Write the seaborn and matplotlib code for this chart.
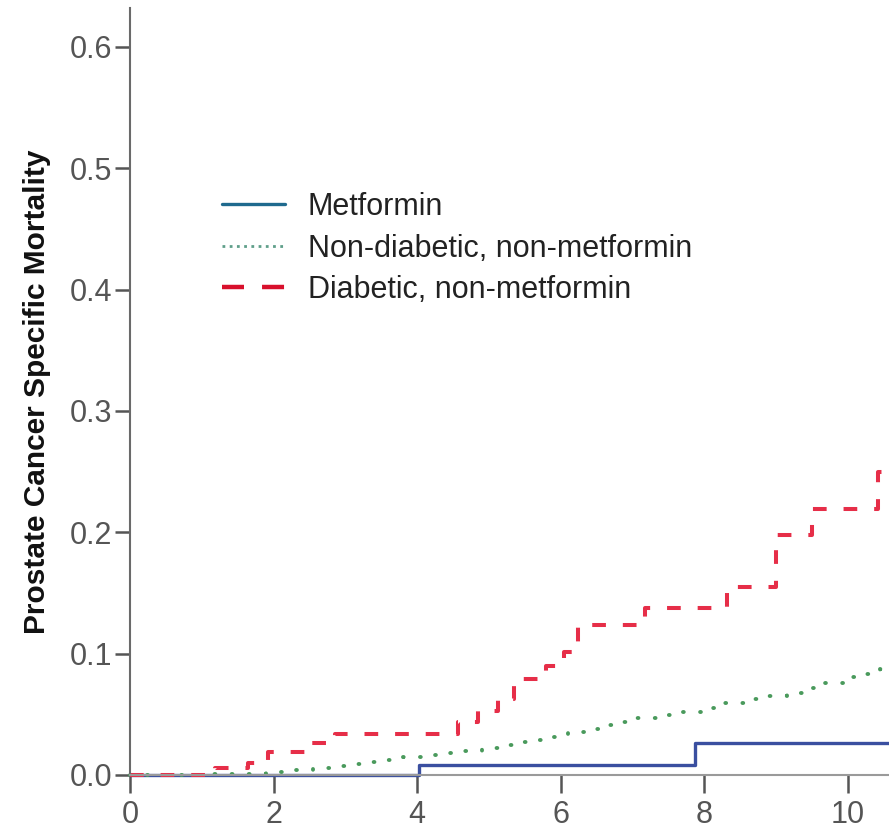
import matplotlib
matplotlib.use("Agg")
import matplotlib.pyplot as plt
from matplotlib.lines import Line2D
import numpy as np
import pandas as pd
import seaborn as sns

# Cumulative prostate-cancer-specific mortality by group (years of follow-up)
metformin_t = [0.0, 4.03, 7.87, 10.57]
metformin_y = [0.0, 0.008, 0.026, 0.026]

nondiab_t = [0.0, 1.0, 1.5, 1.9, 2.3, 2.55, 2.8, 3.05, 3.3, 3.5, 3.8, 4.05, 4.3,
             4.55, 4.9, 5.15, 5.35, 5.55, 5.8, 6.1, 6.35, 6.55, 6.75, 7.05, 7.35,
             7.65, 7.95, 8.25, 8.55, 8.85, 9.15, 9.4, 9.6, 9.95, 10.25, 10.45, 10.57]
nondiab_y = [0.0, 0.0005, 0.001, 0.0027, 0.004, 0.0056, 0.007, 0.009, 0.011, 0.0125,
             0.015, 0.0165, 0.018, 0.0195, 0.0225, 0.025, 0.027, 0.029, 0.031, 0.0355,
             0.038, 0.041, 0.044, 0.047, 0.0495, 0.052, 0.055, 0.059, 0.0625, 0.065,
             0.0675, 0.072, 0.076, 0.081, 0.083, 0.087, 0.087]

diab_t = [0.0, 1.18, 1.65, 1.92, 2.45, 2.85, 4.57, 4.85, 5.13, 5.35, 5.8, 6.05,
          6.24, 7.17, 8.31, 9.0, 9.5, 10.42, 10.57]
diab_y = [0.0, 0.006, 0.010, 0.019, 0.026, 0.034, 0.044, 0.053, 0.063, 0.079, 0.090,
          0.101, 0.124, 0.138, 0.155, 0.198, 0.219, 0.250, 0.250]

group_names = ["Metformin", "Non-diabetic, non-metformin", "Diabetic, non-metformin"]
x_ticks = [0, 2, 4, 6, 8, 10]
y_ticks = [0.0, 0.1, 0.2, 0.3, 0.4, 0.5, 0.6]
y_label = "Prostate Cancer Specific Mortality"

sns.set_theme(style="white")
plt.rcParams["font.family"] = ["Liberation Sans", "DejaVu Sans"]

fig = plt.figure(figsize=(8.89, 8.31), dpi=100)
ax = fig.add_axes([0.1462, 0.0674, 0.8538, 0.9230])

line_styles = {
    "Metformin": dict(color="#3a4fa0", linestyle="-", linewidth=2.4),
    "Non-diabetic, non-metformin": dict(color="#4a9a5c", linestyle=(0, (0.2, 4.2)),
                                        linewidth=2.8, dash_capstyle="round"),
    "Diabetic, non-metformin": dict(color="#e62e48", linestyle=(0, (3.4, 4.2)),
                                    linewidth=2.9),
}

series = [(metformin_t, metformin_y), (nondiab_t, nondiab_y), (diab_t, diab_y)]
for name, (t, y) in zip(group_names, series):
    df = pd.DataFrame({"time": t, "mortality": y})
    sns.lineplot(data=df, x="time", y="mortality", ax=ax, estimator=None,
                 drawstyle="steps-post", clip_on=False, **line_styles[name])

ax.set_xlim(0, 10.57)
ax.set_ylim(0, 0.632)
ax.set_xticks(x_ticks)
ax.set_yticks(y_ticks)
ax.set_xticklabels([str(v) for v in x_ticks])
ax.set_yticklabels([f"{v:.1f}" for v in y_ticks])
ax.set_xlabel("")
ax.set_ylabel(y_label, fontsize=21.5, fontweight="bold", color="#111111", labelpad=14)

for side in ["top", "right"]:
    ax.spines[side].set_visible(False)
ax.spines["left"].set_color("#6a6a6a")
ax.spines["left"].set_linewidth(1.5)
ax.spines["bottom"].set_color("#9a9a9a")
ax.spines["bottom"].set_linewidth(1.5)

ax.tick_params(axis="x", which="major", direction="out", length=13, width=1.8,
               color="#555555", labelsize=22, labelcolor="#555555", pad=5,
               bottom=True)
ax.tick_params(axis="y", which="major", direction="out", length=11, width=1.8,
               color="#555555", labelsize=22, labelcolor="#555555", pad=1.5,
               left=True)

legend_handles = [
    Line2D([], [], color="#1f6a8e", linestyle="-", linewidth=2.4),
    Line2D([], [], color="#5f9f8a", linestyle=(0, (1.0, 1.6)), linewidth=2.0),
    Line2D([], [], color="#d8102c", linestyle=(0, (4.95, 4.06)), linewidth=3.2),
]
fig.legend(legend_handles, group_names, loc="upper left",
           bbox_to_anchor=(0.2497, 0.769), frameon=False, fontsize=22,
           labelcolor="#222222", handlelength=2.05, handletextpad=0.75,
           labelspacing=0.38, borderpad=0, borderaxespad=0)

fig.savefig("out.png", dpi=100)
